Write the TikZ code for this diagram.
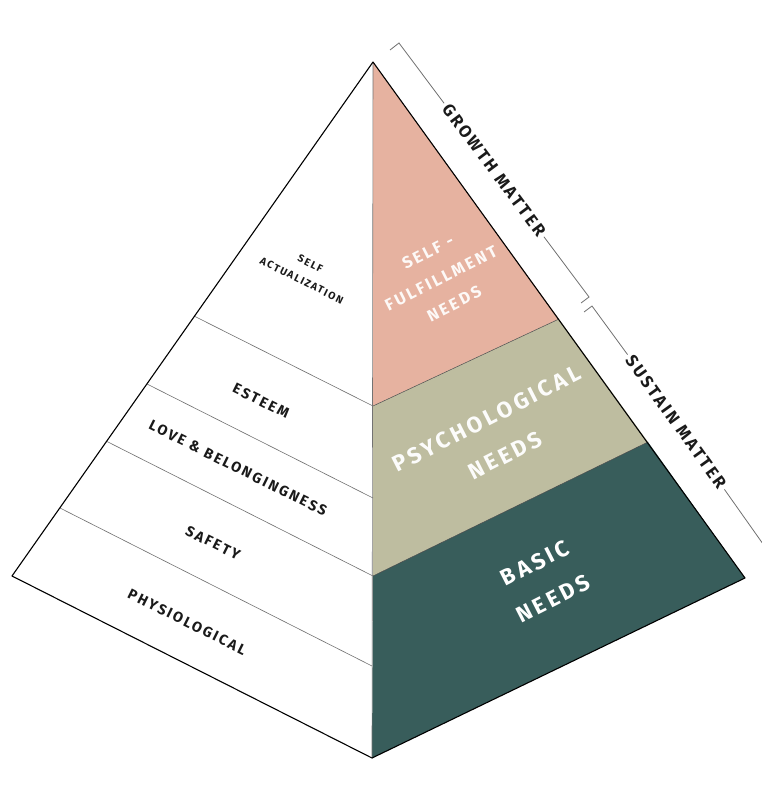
\documentclass[tikz,border=0pt]{standalone}
\usepackage{fontspec}
\setmainfont{Fira Sans}
\newfontfamily\lblfont{Fira Sans}[LetterSpace=15]
\definecolor{pinkc}{HTML}{E6B2A0}
\definecolor{khakic}{HTML}{BEBDA0}
\definecolor{tealc}{HTML}{385D5B}
\definecolor{linegray}{HTML}{707070}
\definecolor{textdark}{HTML}{1A1A1A}
\tikzset{
  outline/.style={draw=black, line width=1.1pt, line join=round},
  band/.style={draw=linegray, line width=0.6pt},
  divider/.style={draw=black!70, line width=0.5pt},
  bracket/.style={draw=linegray, line width=0.8pt},
  leftlbl/.style={text=textdark, rotate=-26.5, inner sep=0pt, font=\lblfont\bfseries\fontsize{14.5}{16}\selectfont},
  rightlbl/.style={text=white, rotate=27, align=center, inner sep=0pt},
  sidelbl/.style={text=textdark, inner sep=3pt, font=\lblfont\bfseries\fontsize{17}{19}\selectfont}
}
\begin{document}
\begin{tikzpicture}[x=1pt,y=-1pt]
\useasboundingbox (0,0) rectangle (762,801);
\clip (0,0) rectangle (762,801);
% pyramid corners
\coordinate (A) at (373,62);
\coordinate (L) at (12,576);
\coordinate (B) at (372,758);
\coordinate (R) at (745,578);
% centre line points
\coordinate (P1) at (373,406);
\coordinate (P2) at (373,498);
\coordinate (P3) at (373,576);
\coordinate (P4) at (372,666);
% right edge points
\coordinate (Q1) at (559,319);
\coordinate (Q2) at (648,442);
% left edge points
\coordinate (L1) at (194,316);
\coordinate (L2) at (147,384);
\coordinate (L3) at (106,441);
\coordinate (L4) at (60,508);
% faces
\fill[white] (A) -- (L) -- (B) -- cycle;
\fill[pinkc] (A) -- (P1) -- (Q1) -- cycle;
\fill[khakic] (P1) -- (Q1) -- (Q2) -- (P3) -- cycle;
\fill[tealc] (P3) -- (Q2) -- (R) -- (B) -- cycle;
% bands
\draw[band] (L1) -- (P1);
\draw[band] (L2) -- (P2);
\draw[band] (L3) -- (P3);
\draw[band] (L4) -- (P4);
\draw[divider] (P1) -- (Q1);
\draw[divider] (P3) -- (Q2);
\draw[draw=black!55, line width=0.6pt] (A) -- (B);
\draw[outline] (A) -- (L) -- (B) -- (R) -- cycle;
% left labels
\node[leftlbl, align=center, font=\lblfont\bfseries\fontsize{10.4}{19}\selectfont] (sa) at (306,272) {SELF\\ACTUALIZATION};
\node[leftlbl] (est) at (261,401) {ESTEEM};
\node[leftlbl] (love) at (238,468) {LOVE \& BELONGINGNESS};
\node[leftlbl] (saf) at (213,543) {SAFETY};
\node[leftlbl] (phy) at (187,622) {PHYSIOLOGICAL};
% right labels
\node[rightlbl, text=white!92!pinkc, font=\lblfont\bfseries\fontsize{16.5}{29}\selectfont] (sf) at (441,278) {SELF -\\FULFILLMENT\\NEEDS};
\node[rightlbl, text=white!96!khakic, font=\lblfont\bfseries\fontsize{22.5}{41}\selectfont] (ps) at (496,437) {PSYCHOLOGICAL\\NEEDS};
\node[rightlbl, font=\lblfont\bfseries\fontsize{22.5}{40}\selectfont] (ba) at (544,581) {BASIC\\NEEDS};
% brackets
\coordinate (g0) at (390,50);
\coordinate (g1) at (399,43);
\coordinate (g2) at (589,297);
\coordinate (g3) at (581,303);
\node[sidelbl, rotate=-53.2] (gm) at (494,170) {GROWTH MATTER};
\draw[bracket] (g0) -- (g1) -- (gm.west);
\draw[bracket] (gm.east) -- (g2) -- (g3);
\coordinate (s0) at (584,312);
\coordinate (s1) at (592,306);
\coordinate (s2) at (780,568);
\node[sidelbl, rotate=-54.3] (sm) at (676,422) {SUSTAIN MATTER};
\draw[bracket] (s0) -- (s1) -- (sm.west);
\draw[bracket] (sm.east) -- (s2);
\end{tikzpicture}
\end{document}
